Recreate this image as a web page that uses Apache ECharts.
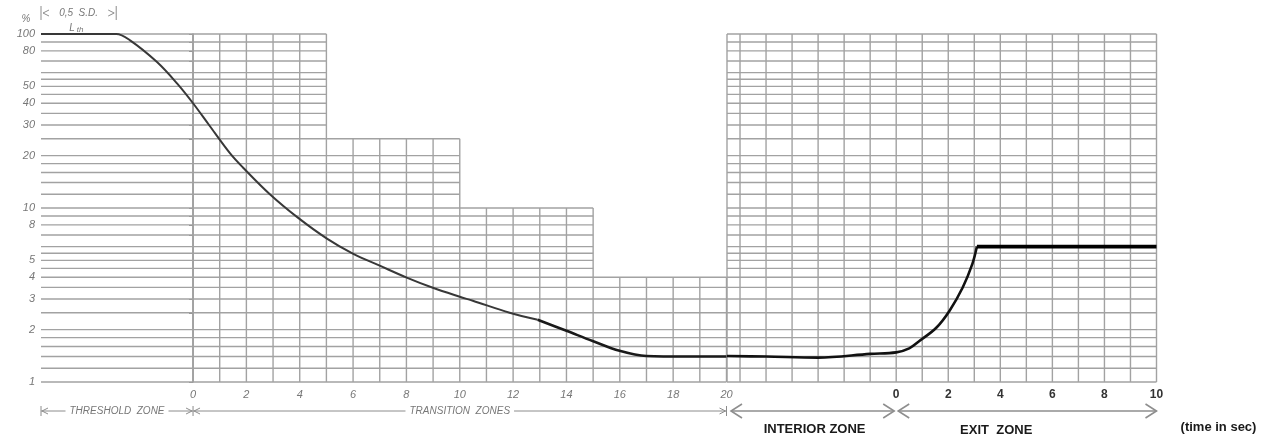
<!DOCTYPE html>
<html>
<head>
<meta charset="utf-8">
<script src="https://cdn.jsdelivr.net/npm/echarts@6/dist/echarts.min.js"></script>
<style>
  html, body { margin: 0; padding: 0; background: #fff; }
  #chart { width: 1263px; height: 440px; }
</style>
</head>
<body>
<div id="chart"></div>
<script>
// horizontal grid lines in %, same pattern in each decade
var gridValues = [1, 1.2, 1.4, 1.6, 1.8, 2, 2.5, 3, 3.5, 4, 4.5, 5, 5.5, 6, 7, 8, 9,
                  10, 12, 14, 16, 18, 20, 25, 30, 35, 40, 45, 50, 55, 60, 70, 80, 90, 100];
var yLabels = [1, 2, 3, 4, 5, 8, 10, 20, 30, 40, 50, 80, 100];

// threshold + transition zones (sec)
var thresholdStart = -5.7;
var stepStarts = [0, 5, 10, 15];
var stepEnds = [5, 10, 15, 20];
var stepTops = [100, 25, 10, 4];
var transSeconds = [0, 1, 2, 3, 4, 5, 6, 7, 8, 9, 10, 11, 12, 13, 14, 15, 16, 17, 18, 19, 20];
var transLabels = [0, 2, 4, 6, 8, 10, 12, 14, 16, 18, 20];

// interior + exit zone (sec, exit starts at 0)
var interiorStart = -6.5;
var exitSeconds = [-6, -5, -4, -3, -2, -1, 0, 1, 2, 3, 4, 5, 6, 7, 8, 9, 10];
var exitLabels = [0, 2, 4, 6, 8, 10];

// luminance curve
var curveATime = [-5.7, -2.88, -2.36, -1.35, -0.6, 0, 0.6, 1.39, 1.87, 2.88, 3.93, 5.02, 5.99, 7.0, 8.01, 8.99, 10.0, 10.49, 11.87, 12.92];
var curveAPct  = [100, 100, 92, 69, 52, 40, 30, 20.6, 17.1, 12.0, 8.8, 6.67, 5.47, 4.66, 3.98, 3.48, 3.09, 2.93, 2.5, 2.28];
var curveBTime = [12.92, 14.0, 14.98, 15.99, 17.0, 18.5, 20];
var curveBPct  = [2.28, 1.97, 1.72, 1.51, 1.41, 1.40, 1.40];
var riseTime = [-6.5, -5, -3, -1, 0, 0.5, 0.89, 1.54, 2.05, 2.55, 2.93, 3.1];
var risePct  = [1.41, 1.40, 1.38, 1.45, 1.48, 1.56, 1.72, 2.05, 2.57, 3.48, 4.79, 6.0];
var plateauTime = [3.1, 10];
var plateauPct  = [6.0, 6.0];

var GRID = '#a2a2a2';
var FONT = '"Liberation Sans", Arial, sans-serif';

function zip(a, b) { return a.map(function (t, i) { return [t, b[i]]; }); }

function topAt(s) {
  var top = 0;
  for (var i = 0; i < stepStarts.length; i++) {
    if (s >= stepStarts[i] && s <= stepEnds[i]) top = Math.max(top, stepTops[i]);
  }
  return top;
}
function endFor(v) {
  var end = stepStarts[0];
  for (var i = 0; i < stepTops.length; i++) {
    if (stepTops[i] >= v - 1e-9) end = Math.max(end, stepEnds[i]);
  }
  return end;
}

var leftH = gridValues.map(function (v) { return [thresholdStart, endFor(v), v]; });
var leftV = transSeconds.map(function (s) { return [s, topAt(s)]; });
var rightH = gridValues.map(function (v) { return [interiorStart, exitSeconds[exitSeconds.length - 1], v]; });
var rightV = [interiorStart].concat(exitSeconds).map(function (s) { return [s, 100]; });

function hLine(params, api) {
  var a = api.coord([api.value(0), api.value(2)]);
  var b = api.coord([api.value(1), api.value(2)]);
  return { type: 'line', shape: { x1: a[0], y1: a[1], x2: b[0], y2: b[1] },
           style: { stroke: GRID, lineWidth: 1.4 } };
}
function vLine(params, api) {
  var a = api.coord([api.value(0), 1]);
  var b = api.coord([api.value(0), api.value(1)]);
  return { type: 'line', shape: { x1: a[0], y1: a[1], x2: b[0], y2: b[1] },
           style: { stroke: GRID, lineWidth: 1.4 } };
}

var chart = echarts.init(document.getElementById('chart'));

var yCommon = { type: 'log', logBase: 10, min: 1, max: 100, splitLine: { show: false } };

chart.setOption({
  animation: false,
  textStyle: { fontFamily: FONT },
  grid: [
    { left: 41, top: 34, width: 685.5, height: 348, outerBoundsMode: 'none' },
    { left: 727, top: 34, width: 429.5, height: 348, outerBoundsMode: 'none' }
  ],
  xAxis: [
    { type: 'value', gridIndex: 0, min: thresholdStart, max: 20,
      axisLine: { show: false }, axisTick: { show: false }, splitLine: { show: false },
      axisLabel: { customValues: transLabels, margin: 7, color: '#777', fontSize: 11, fontStyle: 'italic' } },
    { type: 'value', gridIndex: 1, min: interiorStart, max: 10,
      axisLine: { show: false }, axisTick: { show: false }, splitLine: { show: false },
      axisLabel: { customValues: exitLabels, margin: 7, color: '#333', fontSize: 12, fontWeight: 'bold' } }
  ],
  yAxis: [
    Object.assign({ gridIndex: 0,
      axisLine: { show: true, lineStyle: { color: '#8a8a8a', width: 1.5 } },
      axisTick: { show: true, customValues: gridValues, length: 4, lineStyle: { color: '#8a8a8a' } },
      axisLabel: { customValues: yLabels, margin: 6, color: '#777', fontSize: 11, fontStyle: 'italic' } }, yCommon),
    Object.assign({ gridIndex: 1, axisLine: { show: false }, axisTick: { show: false },
      axisLabel: { show: false } }, yCommon)
  ],
  series: [
    { type: 'custom', xAxisIndex: 0, yAxisIndex: 0, renderItem: hLine, data: leftH, encode: { x: [0, 1], y: 2 }, silent: true, z: 1 },
    { type: 'custom', xAxisIndex: 0, yAxisIndex: 0, renderItem: vLine, data: leftV, encode: { x: 0, y: 1 }, silent: true, z: 1 },
    { type: 'custom', xAxisIndex: 1, yAxisIndex: 1, renderItem: hLine, data: rightH, encode: { x: [0, 1], y: 2 }, silent: true, z: 1 },
    { type: 'custom', xAxisIndex: 1, yAxisIndex: 1, renderItem: vLine, data: rightV, encode: { x: 0, y: 1 }, silent: true, z: 1 },
    { type: 'line', xAxisIndex: 0, yAxisIndex: 0, data: zip(curveATime, curveAPct), smooth: 0.35,
      symbol: 'none', lineStyle: { color: '#383838', width: 2 }, z: 5 },
    { type: 'line', xAxisIndex: 0, yAxisIndex: 0, data: zip(curveBTime, curveBPct), smooth: 0.35,
      symbol: 'none', lineStyle: { color: '#1a1a1a', width: 2.6 }, z: 5 },
    { type: 'line', xAxisIndex: 1, yAxisIndex: 1, data: zip(riseTime, risePct), smooth: 0.35,
      symbol: 'none', lineStyle: { color: '#111', width: 2.6 }, z: 5 },
    { type: 'line', xAxisIndex: 1, yAxisIndex: 1, data: zip(plateauTime, plateauPct),
      symbol: 'none', lineStyle: { color: '#000', width: 3.6 }, z: 5 }
  ]
});

// annotations placed from the axes
function px(axis, s) { return chart.convertToPixel({ xAxisIndex: axis }, s); }
function seg(x1, y1, x2, y2, color, w) {
  return { type: 'line', silent: true, shape: { x1: x1, y1: y1, x2: x2, y2: y2 }, style: { stroke: color, lineWidth: w } };
}
function chevron(x, y, dir, len, half, color, w) {
  return { type: 'polyline', silent: true,
           shape: { points: [[x + dir * len, y - half], [x, y], [x + dir * len, y + half]] },
           style: { stroke: color, fill: null, lineWidth: w } };
}
function label(x, y, text, style) {
  return { type: 'text', silent: true, x: x, y: y,
           style: Object.assign({ text: text, align: 'center', verticalAlign: 'middle', fontFamily: FONT }, style) };
}

var g = [];
var thin = '#8c8c8c';
var ay = 411;
var xt0 = px(0, thresholdStart), xt1 = px(0, 0), xt2 = px(0, 20);
var xi0 = px(1, interiorStart), xe0 = px(1, 0), xe1 = px(1, 10);
var italic = { fontSize: 10, fontStyle: 'italic', fill: '#777', backgroundColor: '#fff', padding: [0, 4] };

// threshold zone
g.push(seg(xt0, ay, xt1, ay, thin, 1));
g.push(seg(xt0, ay - 5, xt0, ay + 5, thin, 1));
g.push(seg(xt1, ay - 5, xt1, ay + 5, thin, 1));
g.push(chevron(xt0 + 1, ay, 1, 6, 3, thin, 1));
g.push(chevron(xt1 - 1, ay, -1, 6, 3, thin, 1));
g.push(label((xt0 + xt1) / 2, ay, 'THRESHOLD  ZONE', italic));
// transition zones
g.push(seg(xt1, ay, xt2, ay, thin, 1));
g.push(seg(xt2, ay - 5, xt2, ay + 5, thin, 1));
g.push(chevron(xt1 + 1, ay, 1, 6, 3, thin, 1));
g.push(chevron(xt2 - 1, ay, -1, 6, 3, thin, 1));
g.push(label((xt1 + xt2) / 2, ay, 'TRANSITION  ZONES', italic));
// interior + exit zones
var bold = '#8e8e8e';
g.push(seg(xi0 + 4, ay, xe0 - 2, ay, bold, 1.6));
g.push(chevron(xi0 + 4, ay, 1, 11, 7, bold, 1.6));
g.push(chevron(xe0 - 2, ay, -1, 11, 7, bold, 1.6));
g.push(seg(xe0 + 2, ay, xe1, ay, bold, 1.6));
g.push(chevron(xe0 + 2, ay, 1, 11, 7, bold, 1.6));
g.push(chevron(xe1, ay, -1, 11, 7, bold, 1.6));
g.push(label((xi0 + xe0) / 2 + 3, 429, 'INTERIOR ZONE', { fontSize: 13, fontWeight: 'bold', fill: '#1a1a1a' }));
g.push(label(xe0 + 100, 430, 'EXIT  ZONE', { fontSize: 13, fontWeight: 'bold', fill: '#1a1a1a' }));
g.push(label(xe1 + 62, 427, '(time in sec)', { fontSize: 13, fontWeight: 'bold', fill: '#1a1a1a' }));

// top: half stopping distance and Lth
var xb = px(0, curveATime[1]);
var ty = 13;
g.push(seg(xt0, ty - 7, xt0, ty + 7, thin, 1));
g.push(seg(xb, ty - 7, xb, ty + 7, thin, 1));
g.push(chevron(xt0 + 2, ty, 1, 6, 3, thin, 1));
g.push(chevron(xb - 2, ty, -1, 6, 3, thin, 1));
g.push(label((xt0 + xb) / 2, ty, '0,5  S.D.', { fontSize: 10, fontStyle: 'italic', fill: '#777' }));
g.push(label(72, 28, 'L', { fontSize: 10, fontStyle: 'italic', fill: '#777' }));
g.push(label(80, 30, 'th', { fontSize: 8, fontStyle: 'italic', fill: '#777' }));
g.push(label(26, 19, '%', { fontSize: 10, fontStyle: 'italic', fill: '#777' }));

chart.setOption({ graphic: g });
</script>
</body>
</html>
